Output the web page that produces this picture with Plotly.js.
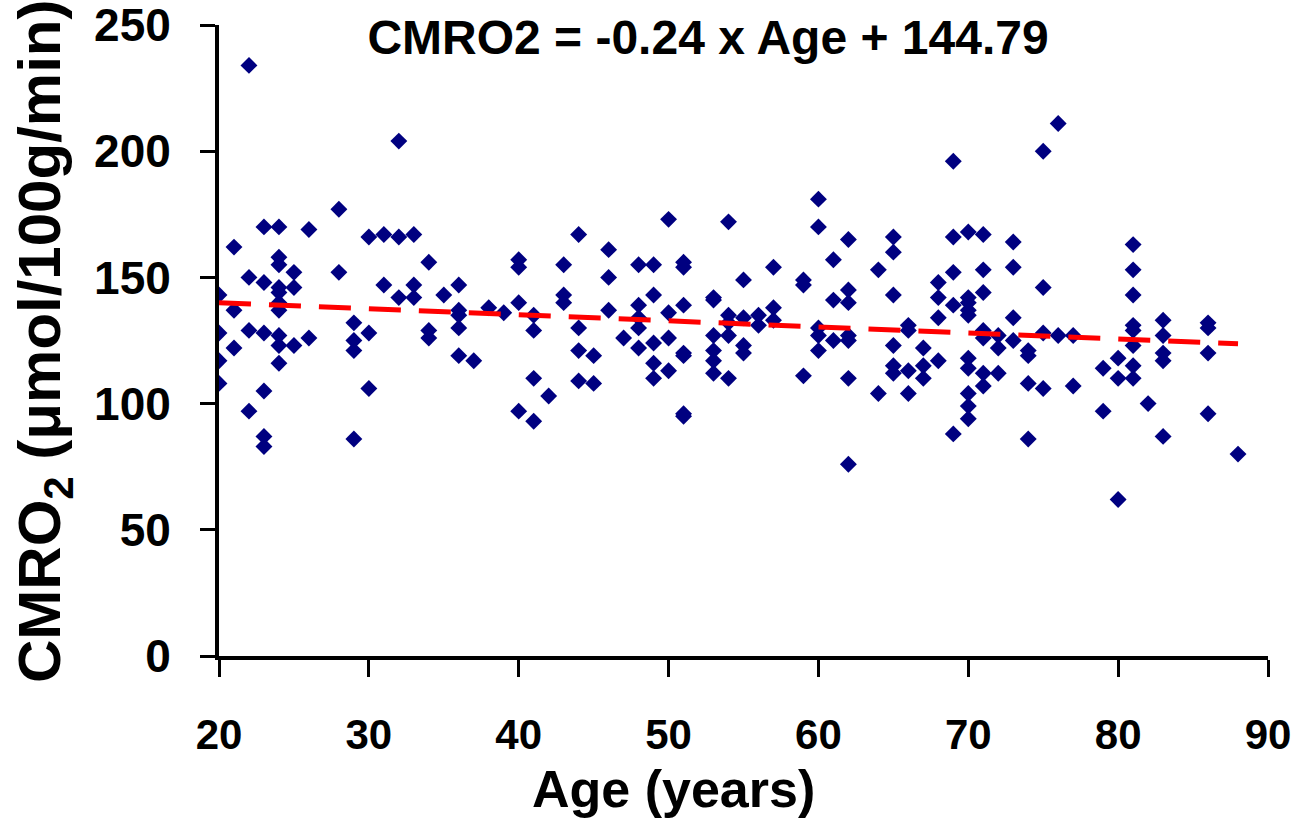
<!DOCTYPE html>
<html>
<head>
<meta charset="utf-8">
<script src="https://cdn.plot.ly/plotly-3.0.1.min.js"></script>
<style>html,body{margin:0;padding:0;background:#fff;}#chart{width:1299px;height:820px;}</style>
</head>
<body>
<div id="chart"></div>
<script>
// Age (years) of each subject
const ages = [
  20,20,20,20, 21,21,21, 22,22,22,22, 23,23,23,23,23,23,
  24,24,24,24,24,24,24,24,24,24, 25,25,25, 26,26, 28,28,
  29,29,29,29, 30,30,30, 31,31, 32,32,32, 33,33,33, 34,34,34,
  35, 36,36,36,36,36, 37, 38, 39, 40,40,40,40, 41,41,41,41, 42,
  43,43,43, 44,44,44,44, 45,45, 46,46,46, 47, 48,48,48,48,48,
  49,49,49,49,49, 50,50,50,50, 51,51,51,51,51,51,51,
  53,53,53,53,53,53, 54,54,54,54,54, 55,55,55,55, 56,56, 57,57,57,
  59,59,59, 60,60,60,60,60, 61,61,61, 62,62,62,62,62,62,62,
  64,64, 65,65,65,65,65,65, 66,66,66,66, 67,67,67, 68,68,68,68,
  69,69,69,69,69, 70,70,70,70,70,70,70,70,70,70,
  71,71,71,71,71,71,71, 72,72,72, 73,73,73,73, 74,74,74,74,
  75,75,75,75, 76,76, 77,77, 79,79, 80,80,80,
  81,81,81,81,81,81,81,81, 82, 83,83,83,83,83, 86,86,86,86, 88
];
// CMRO2 (umol/100g/min) of each subject, same order as ages
const cmro2 = [
  143,128,117,108, 162,137,122, 234,150,129,97, 170,148,128,105,87,83,
  170,158,155,146,144,140,137,127,123,116, 152,146,123, 169,126, 177,152,
  132,125,121,86, 166,128,106, 167,147, 204,166,142, 167,147,142, 156,129,126,
  143, 147,137,135,130,119, 117, 138, 136, 157,154,140,97, 135,129,110,93, 103,
  155,143,140, 167,130,121,109, 119,108, 161,150,137, 126, 155,139,134,130,122,
  155,143,124,116,110, 173,136,126,113, 156,154,139,120,119,96,95,
  142,141,127,121,117,112, 172,135,132,127,110, 149,134,123,120, 135,131, 154,138,133,
  149,147,111, 181,170,130,127,121, 157,141,125, 165,145,140,127,125,110,76,
  153,104, 166,160,143,123,115,112, 131,129,113,104, 122,115,110, 148,142,134,117,
  196,166,152,139,88, 168,142,140,137,135,118,114,104,99,94,
  167,153,144,129,126,112,107, 127,122,112, 164,154,134,125, 121,119,108,86,
  200,146,128,106, 211,127, 127,107, 114,97, 118,110,62,
  163,153,143,131,129,123,115,110, 100, 133,127,120,117,87, 132,130,120,96, 80
];
// Linear fit shown in the title
const fitSlope = -0.24;
const fitIntercept = 144.79;
const fitAges = [20, 88];
const fitValues = fitAges.map(a => fitSlope * a + fitIntercept);

const xTicks = [20, 30, 40, 50, 60, 70, 80, 90];
const yTicks = [0, 50, 100, 150, 200, 250];

const chartTitle = 'CMRO2 = -0.24 x Age + 144.79';
const xTitle = 'Age (years)';
const yTitle = 'CMRO<sub>2</sub> (μmol/100g/min)';

const traces = [
  {
    x: ages, y: cmro2, type: 'scatter', mode: 'markers',
    marker: {symbol: 'diamond', size: 13, color: '#000080', line: {width: 0}},
    hoverinfo: 'x+y', showlegend: false
  },
  {
    x: fitAges, y: fitValues, type: 'scatter', mode: 'lines',
    line: {color: '#FF0000', width: 5, dash: '32px,18px'},
    showlegend: false
  }
];

const W = 1299, H = 820;
const L = 219, R = 1268, T = 25, B = 656;
const FONT = 'Liberation Sans, Arial, sans-serif';

const layout = {
  width: W, height: H,
  margin: {l: L, r: W - R, t: T, b: H - B, pad: 0},
  paper_bgcolor: '#ffffff', plot_bgcolor: '#ffffff',
  showlegend: false,
  title: {
    text: '<b>' + chartTitle + '</b>',
    font: {family: FONT, size: 48, color: '#000'},
    x: 708 / W, xanchor: 'center', xref: 'container',
    y: 1 - 37 / H, yanchor: 'middle', yref: 'container'
  },
  xaxis: {
    range: [20, 90], tickvals: xTicks, ticktext: xTicks.map(String),
    showgrid: false, zeroline: false,
    showline: true, linecolor: '#000', linewidth: 4,
    ticks: 'outside', ticklen: 17, tickwidth: 3, tickcolor: '#000',
    tickfont: {family: FONT, size: 42, color: '#000', weight: 'bold'},
    ticklabelstandoff: 22, ticklabeloverflow: 'allow'
  },
  yaxis: {
    range: [0, 250], tickvals: yTicks, ticktext: yTicks.map(String),
    showgrid: false, zeroline: false,
    showline: true, linecolor: '#000', linewidth: 4,
    ticks: 'outside', ticklen: 15, tickwidth: 3, tickcolor: '#000',
    tickfont: {family: FONT, size: 46, color: '#000', weight: 'bold'},
    ticklabelstandoff: 20, ticklabeloverflow: 'allow'
  },
  annotations: [
    {
      text: '<b>' + xTitle + '</b>', showarrow: false,
      xref: 'paper', yref: 'paper',
      x: (673 - L) / (R - L), y: (B - 789) / (B - T),
      xanchor: 'center', yanchor: 'middle',
      font: {family: FONT, size: 52, color: '#000'}
    },
    {
      text: '<b>' + yTitle + '</b>', showarrow: false, textangle: -90,
      xref: 'paper', yref: 'paper',
      x: (44 - L) / (R - L), y: (B - 342) / (B - T),
      xanchor: 'center', yanchor: 'middle',
      font: {family: FONT, size: 60, color: '#000'}
    }
  ]
};

Plotly.newPlot('chart', traces, layout, {displayModeBar: false, staticPlot: true});
</script>
</body>
</html>
